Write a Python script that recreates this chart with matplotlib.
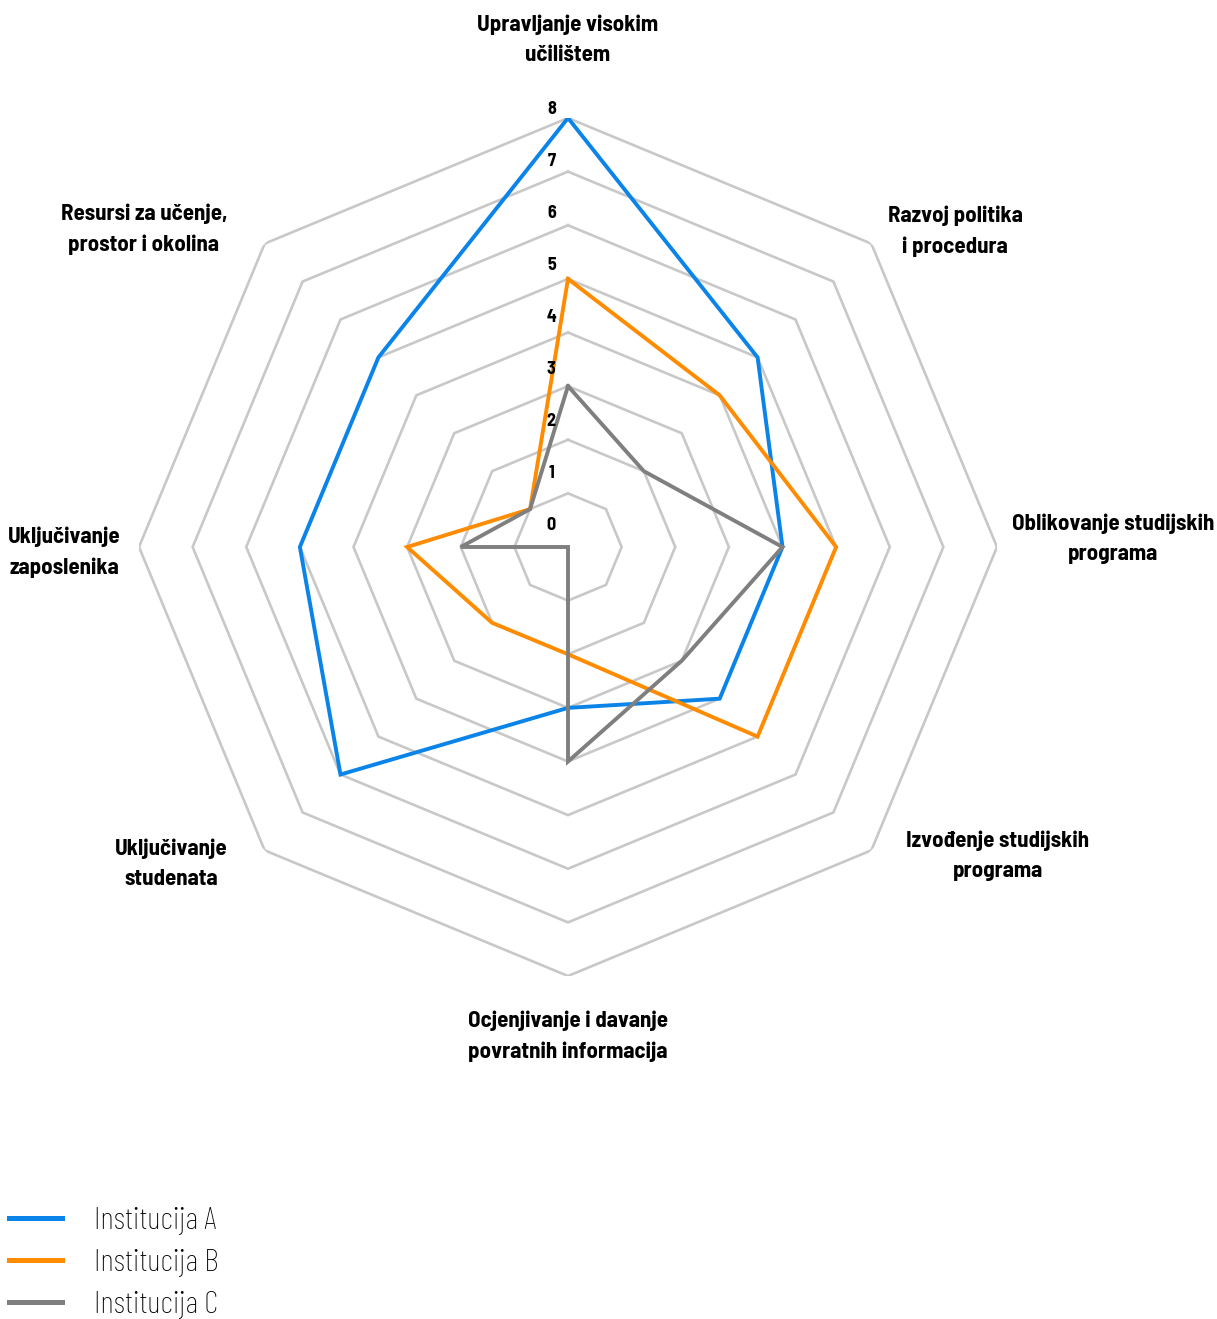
import numpy as np
import matplotlib
matplotlib.use('Agg')
import matplotlib.pyplot as plt
from matplotlib import font_manager

# kategorije (u smjeru kazaljke na satu, od vrha)
kategorije = [
    'Upravljanje visokim\nučilištem',
    'Razvoj politika\ni procedura',
    'Oblikovanje studijskih\nprograma',
    'Izvođenje studijskih\nprograma',
    'Ocjenjivanje i davanje\npovratnih informacija',
    'Uključivanje\nstudenata',
    'Uključivanje\nzaposlenika',
    'Resursi za učenje,\nprostor i okolina',
]
institucija_a = [8, 5, 4, 4, 3, 6, 5, 5]
institucija_b = [5, 4, 5, 5, 2, 2, 3, 1]
institucija_c = [3, 2, 4, 3, 4, 0, 2, 1]
nazivi = ['Institucija A', 'Institucija B', 'Institucija C']
boje = ['#0A84E8', '#FF8C00', '#7F7F7F']
razine = [0, 1, 2, 3, 4, 5, 6, 7, 8]

# pozicije oznaka kategorija (pikseli slike)
pozicije_oznaka = [(568, 40), (955, 231), (1113, 539), (998, 856),
                   (568, 1036), (171, 864), (64, 552), (144, 229)]

imena = {f.name for f in font_manager.fontManager.ttflist}
kandidati = ['Barlow Semi Condensed', 'Barlow Condensed', 'Roboto Condensed',
             'Fira Sans Condensed', 'PT Sans Narrow']
uski = next((k for k in kandidati if k in imena), 'DejaVu Sans')
legenda_font = next((k for k in ['Barlow Condensed'] + kandidati if k in imena), 'DejaVu Sans')
plt.rcParams['font.family'] = [uski, 'DejaVu Sans']

W, H = 1217, 1319
fig = plt.figure(figsize=(W / 100, H / 100), dpi=100)
cx, cy, R = 568, 547, 429
ax = fig.add_axes([(cx - R) / W, 1 - (cy + R) / H, 2 * R / W, 2 * R / H],
                  projection='polar')
ax.set_theta_offset(np.pi / 2)
ax.set_theta_direction(-1)
ax.set_ylim(0, 8)
ax.axis('off')

n = len(kategorije)
kutovi = np.linspace(0, 2 * np.pi, n, endpoint=False)
zatvoreno = np.append(kutovi, kutovi[0])

# mreža (osmerokuti)
for r in razine[1:]:
    ax.plot(zatvoreno, [r] * (n + 1), color='#C8C8C8', lw=1.9, zorder=1,
            solid_joinstyle='miter')

for vrijednosti, boja, naziv in zip([institucija_a, institucija_b, institucija_c], boje, nazivi):
    v = list(vrijednosti) + [vrijednosti[0]]
    ax.plot(zatvoreno, v, color=boja, lw=2.8, label=naziv, zorder=3,
            solid_joinstyle='miter')

# oznake ljestvice
for r in razine:
    ax.annotate(str(r), xy=(0, r), xytext=(-12, 15.8 - r * 1.25),
                textcoords='offset points', ha='center', va='center',
                fontsize=13, fontweight='bold', zorder=4)

for tekst, (px, py) in zip(kategorije, pozicije_oznaka):
    fig.text(px / W, 1 - py / H, tekst, ha='center', va='center',
             fontsize=16.5, fontweight='bold', linespacing=1.65)

leg = fig.legend(loc='lower left', bbox_to_anchor=(9 / W, 0), frameon=False,
                 handlelength=1.65, handletextpad=1.0, labelspacing=0.43,
                 borderpad=0, borderaxespad=0,
                 prop={'family': [legenda_font], 'weight': 'light', 'size': 23})
for t in leg.get_texts():
    t.set_color('#000000')
for h in leg.get_lines():
    h.set_linewidth(3.6)

fig.savefig('out.png', dpi=100)
